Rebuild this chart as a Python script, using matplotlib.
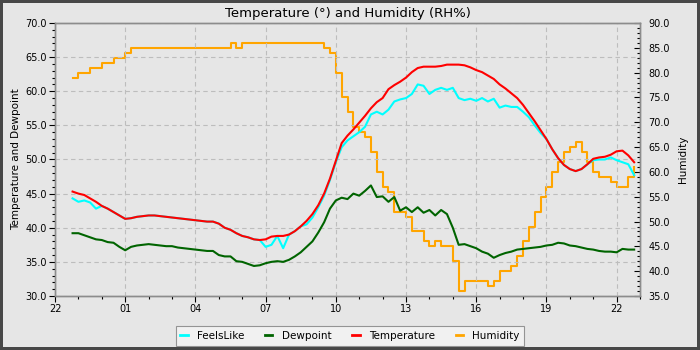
import numpy as np
import pandas as pd
import matplotlib
matplotlib.use("Agg")
import matplotlib.pyplot as plt
import matplotlib.dates as mdates
from matplotlib.ticker import FormatStrFormatter, MultipleLocator

# 15 分钟一个读数，22:45 到次日 22:45
times = pd.date_range("2023-07-14 22:45", "2023-07-15 22:45", freq="15min")

temperature = [
    45.3, 45.0, 44.8, 44.3, 43.8, 43.2, 42.8, 42.3, 41.8, 41.3, 41.4, 41.6,
    41.7, 41.8, 41.8, 41.7, 41.6, 41.5, 41.4, 41.3, 41.2, 41.1, 41.0, 40.9,
    40.9, 40.6, 40.0, 39.7, 39.2, 38.8, 38.6, 38.3, 38.2, 38.3, 38.7, 38.8,
    38.8, 39.0, 39.5, 40.2, 41.0, 42.0, 43.3, 45.0, 47.2, 49.8, 52.4, 53.5,
    54.4, 55.4, 56.4, 57.5, 58.4, 59.0, 60.3, 60.9, 61.4, 62.0, 62.8, 63.4,
    63.6, 63.6, 63.6, 63.7, 63.9, 63.9, 63.9, 63.8, 63.5, 63.1, 62.8, 62.3,
    61.8, 61.0, 60.4, 59.7, 59.0, 58.0, 56.8, 55.6, 54.3, 53.0, 51.5, 50.2,
    49.2, 48.6, 48.3, 48.6, 49.3, 50.1, 50.3, 50.4, 50.7, 51.2, 51.3, 50.6,
    49.6,
]

feels_like = [
    44.3, 43.8, 44.0, 43.7, 42.8, 43.2, 42.8, 42.3, 41.8, 41.3, 41.4, 41.6,
    41.7, 41.8, 41.8, 41.7, 41.6, 41.5, 41.4, 41.3, 41.2, 41.1, 41.0, 40.9,
    40.9, 40.6, 40.0, 39.7, 39.2, 38.8, 38.6, 38.3, 38.2, 37.2, 37.5, 38.8,
    37.0, 39.0, 39.5, 40.2, 40.5, 41.5, 43.0, 44.7, 47.0, 49.6, 51.8, 52.8,
    53.4, 54.0, 54.8, 56.6, 57.0, 56.6, 57.3, 58.5, 58.8, 59.0, 59.6, 61.0,
    60.8, 59.6, 60.2, 60.5, 60.2, 60.5, 59.0, 58.7, 58.9, 58.6, 59.0, 58.5,
    58.9, 57.6, 57.9, 57.7, 57.7, 57.0, 56.2, 55.0, 53.9, 53.0, 51.5, 50.2,
    49.2, 48.6, 48.3, 48.6, 49.3, 49.9, 50.0, 50.0, 50.3, 49.9, 49.6, 49.3,
    47.7,
]

dewpoint = [
    39.2, 39.2, 38.9, 38.6, 38.3, 38.2, 37.9, 37.8, 37.2, 36.7, 37.2, 37.4,
    37.5, 37.6, 37.5, 37.4, 37.3, 37.3, 37.1, 37.0, 36.9, 36.8, 36.7, 36.6,
    36.6, 36.0, 35.8, 35.8, 35.1, 35.0, 34.7, 34.4, 34.5, 34.8, 35.0, 35.1,
    35.0, 35.3, 35.8, 36.4, 37.2, 38.0, 39.3, 40.8, 42.8, 44.0, 44.4, 44.2,
    45.0, 44.7, 45.4, 46.2, 44.5, 44.6, 43.8, 44.5, 42.5, 43.0, 42.3, 43.0,
    42.2, 42.6, 41.8, 42.6, 42.0, 40.0, 37.5, 37.6, 37.3, 37.0, 36.5, 36.2,
    35.6, 36.0, 36.3, 36.5, 36.8, 36.9, 37.0, 37.1, 37.2, 37.4, 37.5, 37.8,
    37.7, 37.4, 37.3, 37.1, 36.9, 36.8, 36.6, 36.5, 36.5, 36.4, 36.9, 36.8,
    36.8,
]

humidity = [
    79, 80, 80, 81, 81, 82, 82, 83, 83, 84, 85, 85,
    85, 85, 85, 85, 85, 85, 85, 85, 85, 85, 85, 85,
    85, 85, 85, 86, 85, 86, 86, 86, 86, 86, 86, 86,
    86, 86, 86, 86, 86, 86, 86, 85, 84, 80, 75, 72,
    69, 68, 67, 64, 60, 57, 56, 52, 52, 51, 48, 48,
    46, 45, 46, 45, 45, 42, 36, 38, 38, 38, 38, 37,
    38, 40, 40, 41, 43, 46, 49, 52, 55, 57, 60, 62,
    64, 65, 66, 64, 62, 60, 59, 59, 58, 57, 57, 59,
    61,
]

bg = "#e6e6e6"
fig = plt.figure(figsize=(7, 3.5), dpi=100, facecolor=bg)
fig.patch.set_edgecolor("#474747")
fig.patch.set_linewidth(4)

ax = fig.add_axes([0.0786, 0.1543, 0.8357, 0.78], facecolor=bg)
ax2 = ax.twinx()

lw = 1.5
ax.plot(times, feels_like, color="cyan", lw=lw, label="FeelsLike", zorder=3)
ax.plot(times, dewpoint, color="#006400", lw=lw, label="Dewpoint", zorder=3)
ax.plot(times, temperature, color="red", lw=lw, label="Temperature", zorder=4)
ax2.plot(times, humidity, color="orange", lw=lw, label="Humidity",
         drawstyle="steps-post")

ax.set_xlim(pd.Timestamp("2023-07-14 22:00"), pd.Timestamp("2023-07-15 23:00"))
ax.set_ylim(30, 70)
ax2.set_ylim(35, 90)

ax.xaxis.set_major_locator(mdates.HourLocator(byhour=range(1, 24, 3)))
ax.xaxis.set_minor_locator(mdates.HourLocator())
ax.xaxis.set_major_formatter(mdates.DateFormatter("%H"))
ax.yaxis.set_major_locator(MultipleLocator(5))
ax.yaxis.set_minor_locator(MultipleLocator(1))
ax.yaxis.set_major_formatter(FormatStrFormatter("%.1f"))
ax2.yaxis.set_major_locator(MultipleLocator(5))
ax2.yaxis.set_minor_locator(MultipleLocator(1))
ax2.yaxis.set_major_formatter(FormatStrFormatter("%.1f"))

ax.tick_params(axis="both", which="major", labelsize=7, length=4, width=0.8, pad=2)
ax.tick_params(axis="both", which="minor", length=2.5, width=0.8)
ax2.tick_params(axis="y", which="major", labelsize=7, length=4, width=0.8,
                direction="in", pad=6)
ax2.tick_params(axis="y", which="minor", length=2.5, width=0.8, direction="in")

ax.grid(True, which="major", color="#bdbdbd", ls=(0, (4, 3)), lw=0.8)
ax.set_axisbelow(True)
ax2.set_zorder(ax.get_zorder() - 1)
ax.patch.set_visible(False)
ax2.patch.set_facecolor(bg)
ax2.patch.set_visible(True)

for a in (ax, ax2):
    for s in a.spines.values():
        s.set_color("#8c8c8c")
        s.set_linewidth(1)

ax.set_ylabel("Temperature and Dewpoint", fontsize=7.5, labelpad=3)
ax2.set_ylabel("Humidity", fontsize=7.5, labelpad=6)
ax.set_title("Temperature (°) and Humidity (RH%)", fontsize=9.5, pad=4)

handles = ax.get_lines() + ax2.get_lines()
leg = fig.legend(handles, [h.get_label() for h in handles], loc="center",
                 bbox_to_anchor=(0.5, 0.04), ncol=4, fontsize=7.5,
                 handlelength=0.7, handletextpad=0.9, columnspacing=2.0,
                 frameon=True, fancybox=False, borderpad=0.45)
leg.get_frame().set_facecolor("#f4f4f4")
leg.get_frame().set_edgecolor("#7f7f7f")
leg.get_frame().set_linewidth(0.8)
for h in leg.legend_handles:
    h.set_linewidth(2)

fig.savefig("out.png", dpi=100, facecolor=fig.get_facecolor(),
            edgecolor=fig.get_edgecolor())
